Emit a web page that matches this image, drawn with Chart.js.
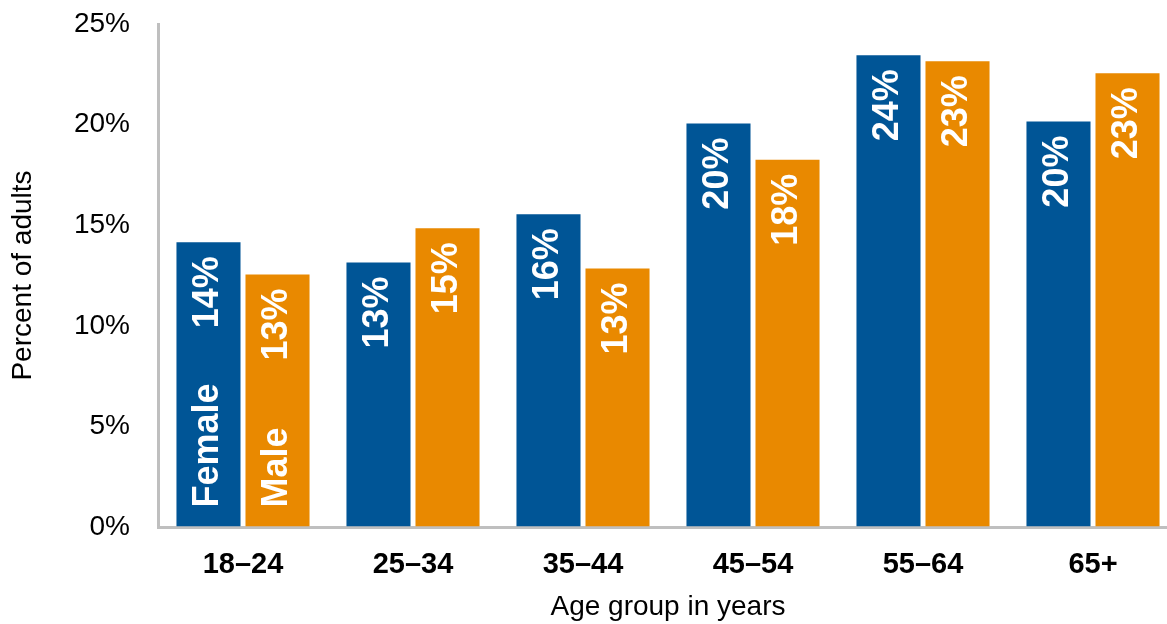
<!DOCTYPE html>
<html>
<head>
<meta charset="utf-8">
<script src="https://cdn.jsdelivr.net/npm/chart.js@4"></script>
<style>
  html, body { margin: 0; padding: 0; background: #fff; overflow: hidden; }
  #wrap { width: 1180px; height: 624px; }
</style>
</head>
<body>
<div id="wrap"><canvas id="chart" width="1180" height="624"></canvas></div>
<script>
const ageGroups = ['18–24', '25–34', '35–44', '45–54', '55–64', '65+'];
const female = [14.2, 13.2, 15.6, 20.1, 23.5, 20.2];
const male = [12.6, 14.9, 12.9, 18.3, 23.2, 22.6];
const yTicks = [0, 5, 10, 15, 20, 25];

const FONT = '"Liberation Sans", Arial, sans-serif';
const BLUE = '#005596';
const ORANGE = '#E98900';
const AXIS = '#BFBFBF';

// percent labels near the top of each bar + series names inside the first pair
const barLabels = {
  id: 'barLabels',
  afterDatasetsDraw(chart) {
    const ctx = chart.ctx;
    ctx.save();
    ctx.fillStyle = '#fff';
    ctx.font = 'bold 36px ' + FONT;
    ctx.textBaseline = 'middle';
    chart.data.datasets.forEach((ds, di) => {
      const meta = chart.getDatasetMeta(di);
      meta.data.forEach((bar, i) => {
        const p = bar.getProps(['x', 'y', 'base'], true);
        ctx.save();
        ctx.translate(p.x, p.y + 15);
        ctx.rotate(-Math.PI / 2);
        ctx.textAlign = 'right';
        ctx.fillText(Math.round(ds.data[i]) + '%', 0, 0);
        ctx.restore();
        if (i === 0) {
          ctx.save();
          ctx.translate(p.x, p.base - 19);
          ctx.rotate(-Math.PI / 2);
          ctx.textAlign = 'left';
          ctx.fillText(ds.label, 0, 0);
          ctx.restore();
        }
      });
    });
    ctx.restore();
  }
};

new Chart(document.getElementById('chart'), {
  type: 'bar',
  data: {
    labels: ageGroups,
    datasets: [
      { label: 'Female', data: female, backgroundColor: BLUE, borderColor: 'rgba(255,255,255,0.55)', borderWidth: 1 },
      { label: 'Male', data: male, backgroundColor: ORANGE, borderColor: 'rgba(255,255,255,0.55)', borderWidth: 1 }
    ]
  },
  options: {
    responsive: false,
    animation: false,
    categoryPercentage: 0.812,
    barPercentage: 0.957,
    layout: { padding: { top: 24, right: 2, bottom: 0, left: 0 } },
    plugins: {
      legend: { display: false },
      tooltip: { enabled: false }
    },
    scales: {
      x: {
        afterFit(s) { s.height = 97; s.paddingLeft = 0; s.paddingRight = 0; },
        grid: { color: 'transparent', drawTicks: false },
        border: { color: AXIS, width: 3 },
        ticks: { color: '#000', padding: 21, font: { family: FONT, size: 29, weight: 'bold' } },
        title: {
          display: true, text: 'Age group in years', color: '#000',
          padding: { top: 0, bottom: 0 },
          font: { family: FONT, size: 28 }
        }
      },
      y: {
        min: 0, max: 25,
        afterFit(s) { s.width = 158; s.paddingTop = 0; s.paddingBottom = 0; },
        afterBuildTicks(s) { s.ticks = yTicks.map(v => ({ value: v })); },
        grid: { color: 'transparent', drawTicks: false },
        border: { color: AXIS, width: 3 },
        ticks: { color: '#000', padding: 28, font: { family: FONT, size: 28 }, callback: v => v + '%' },
        title: {
          display: true, text: 'Percent of adults', color: '#000',
          padding: { top: 6, bottom: 0 },
          font: { family: FONT, size: 28 }
        }
      }
    }
  },
  plugins: [barLabels]
});
</script>
</body>
</html>
